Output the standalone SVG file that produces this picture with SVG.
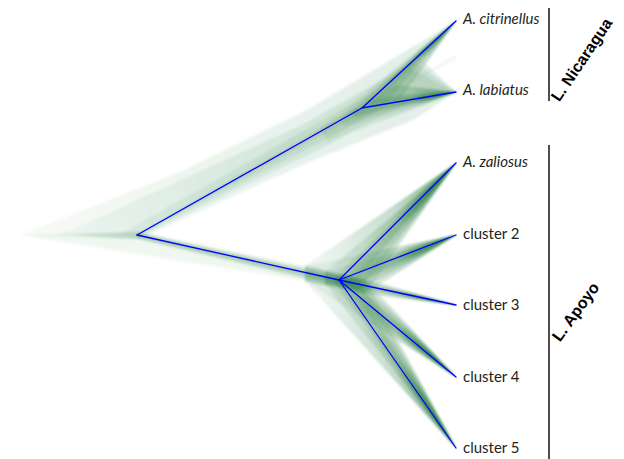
<svg xmlns="http://www.w3.org/2000/svg" width="624" height="459" viewBox="0 0 624 459">
<defs>
<filter id="soft" x="-5%" y="-5%" width="110%" height="110%"><feGaussianBlur stdDeviation="0.8"/></filter>
<linearGradient id="ga"><stop offset="0" stop-color="#17702f" stop-opacity=".07"/><stop offset=".5" stop-color="#17702f" stop-opacity=".22"/><stop offset=".85" stop-color="#17702f" stop-opacity=".5"/><stop offset="1" stop-color="#17702f" stop-opacity=".7"/></linearGradient>
<linearGradient id="gz" href="#ga" gradientUnits="userSpaceOnUse" x1="339" y1="280" x2="456" y2="163"/>
<linearGradient id="g2" href="#ga" gradientUnits="userSpaceOnUse" x1="339" y1="280" x2="456" y2="235"/>
<linearGradient id="g3" href="#ga" gradientUnits="userSpaceOnUse" x1="339" y1="280" x2="456" y2="305"/>
<linearGradient id="g4" href="#ga" gradientUnits="userSpaceOnUse" x1="339" y1="280" x2="456" y2="377"/>
<linearGradient id="g5" href="#ga" gradientUnits="userSpaceOnUse" x1="339" y1="280" x2="456" y2="448"/>
<linearGradient id="gnb"><stop offset="0" stop-color="#17702f" stop-opacity=".05"/><stop offset=".6" stop-color="#17702f" stop-opacity=".18"/><stop offset="1" stop-color="#17702f" stop-opacity=".6"/></linearGradient>
<linearGradient id="gc" href="#gnb" gradientUnits="userSpaceOnUse" x1="350" y1="120" x2="456" y2="21"/>
<linearGradient id="gl" href="#gnb" gradientUnits="userSpaceOnUse" x1="350" y1="120" x2="456" y2="92"/>
<linearGradient id="gf" gradientUnits="userSpaceOnUse" x1="20" y1="235" x2="456" y2="60"><stop offset="0" stop-color="#17702f" stop-opacity=".03"/><stop offset=".5" stop-color="#17702f" stop-opacity=".08"/><stop offset="1" stop-color="#17702f" stop-opacity=".12"/></linearGradient>
</defs>
<style>
.cl{fill:#17702f;stroke:none}
.n1{fill-opacity:.06}.n2{fill-opacity:.12}.n3{fill-opacity:.22}
.br{stroke:#0000ff;stroke-width:1.3;fill:none;stroke-linecap:round}
.lab{font-family:Lato,"Open Sans","Liberation Sans",sans-serif;font-size:15px;fill:#231f20}
.it{font-style:italic}
.grp{font-family:"Liberation Sans Narrow","Liberation Sans",Arial,sans-serif;font-weight:bold;font-size:16px;fill:#000;text-anchor:middle}
.bk{stroke:#231f20;stroke-width:1.6}
</style>
<rect width="624" height="459" fill="#fff"/>
<g id="cloud" filter="url(#soft)">
<g id="cloud-nicaragua">
<polygon fill="url(#gf)" points="20,235 180,172 307,110 456,21 420,58 456,92 413,120 307,163 137,240"/>
<polygon fill="url(#gf)" points="60,235 300,126 400,70 456,21 415,62 456,92 400,106 318,150 137,239"/>
<polygon fill="url(#gf)" points="120,234 330,116 380,88 456,21 410,68 456,92 378,110 340,132 137,238"/>
<polygon class="cl n1" points="362,108 456,55 456,59"/>
<polygon class="cl n2" points="137,234 355,108 368,110 137,236"/>
<polygon fill="url(#gc)" points="456,21 320,128 328,142 402,97"/>
<polygon fill="url(#gc)" points="456,21 340,118 345,127 385,104"/>
<polygon fill="url(#gc)" points="456,21 352,112 355,118 372,106"/>
<polygon fill="url(#gl)" points="456,92 395,85 320,128 328,142"/>
<polygon fill="url(#gl)" points="456,92 380,96 340,118 345,127"/>
<polygon fill="url(#gl)" points="456,92 372,100 352,112 355,118"/>
</g>
<g id="cloud-apoyo">
<polygon class="cl n1" points="20,235 137,231 305,266 365,279 365,294 305,281"/>
<polygon class="cl n2" points="70,235 137,232 325,272 360,280 360,290 325,284 137,239"/>
<polygon class="cl n3" points="137,233 335,277 352,281 352,286 335,283 137,238"/>
<polygon fill="url(#gz)" points="456,163 305,266 305,281 365,294"/>
<polygon fill="url(#gz)" points="456,163 325,272 325,284 360,290"/>
<polygon fill="url(#gz)" points="456,163 335,277 335,283 352,286"/>
<polygon fill="url(#g2)" points="456,235 305,266 305,281 365,294"/>
<polygon fill="url(#g2)" points="456,235 325,272 325,284 360,290"/>
<polygon fill="url(#g2)" points="456,235 335,277 335,283 352,286"/>
<polygon fill="url(#g3)" points="456,305 365,279 305,266 305,281 365,294"/>
<polygon fill="url(#g3)" points="456,305 360,280 325,272 325,284 360,290"/>
<polygon fill="url(#g3)" points="456,305 352,281 335,277 335,283 352,286"/>
<polygon fill="url(#g4)" points="456,377 365,279 305,266 305,281"/>
<polygon fill="url(#g4)" points="456,377 360,280 325,272 325,284"/>
<polygon fill="url(#g4)" points="456,377 352,281 335,277 335,283"/>
<polygon fill="url(#g5)" points="456,448 365,279 305,266 305,281"/>
<polygon fill="url(#g5)" points="456,448 360,280 325,272 325,284"/>
<polygon fill="url(#g5)" points="456,448 352,281 335,277 335,283"/>
</g>
</g>
<g id="connectors">
<polyline class="br" points="456,21 362,108 456,92"/>
<line class="br" x1="137" y1="235" x2="362" y2="108"/>
<line class="br" x1="137" y1="235" x2="339" y2="280"/>
<line class="br" x1="339" y1="280" x2="456" y2="163"/>
<line class="br" x1="339" y1="280" x2="456" y2="235"/>
<line class="br" x1="339" y1="280" x2="456" y2="305"/>
<line class="br" x1="339" y1="280" x2="456" y2="377"/>
<line class="br" x1="339" y1="280" x2="456" y2="448"/>
</g>
<g id="node-citrinellus"><text class="lab it" x="463" y="24">A. citrinellus</text></g>
<g id="node-labiatus"><text class="lab it" x="463" y="95">A. labiatus</text></g>
<g id="node-zaliosus"><text class="lab it" x="463" y="167">A. zaliosus</text></g>
<g id="node-cluster2"><text class="lab" x="463" y="239">cluster 2</text></g>
<g id="node-cluster3"><text class="lab" x="463" y="310">cluster 3</text></g>
<g id="node-cluster4"><text class="lab" x="463" y="382">cluster 4</text></g>
<g id="node-cluster5"><text class="lab" x="463" y="453">cluster 5</text></g>
<g id="group-nicaragua">
<line class="bk" x1="549" y1="8" x2="549" y2="101"/>
<text class="grp" transform="translate(582,60) rotate(-56)" x="0" y="5">L. Nicaragua</text>
</g>
<g id="group-apoyo">
<line class="bk" x1="549" y1="145" x2="549" y2="459"/>
<text class="grp" transform="translate(576,312) rotate(-54)" x="0" y="5">L. Apoyo</text>
</g>
</svg>
